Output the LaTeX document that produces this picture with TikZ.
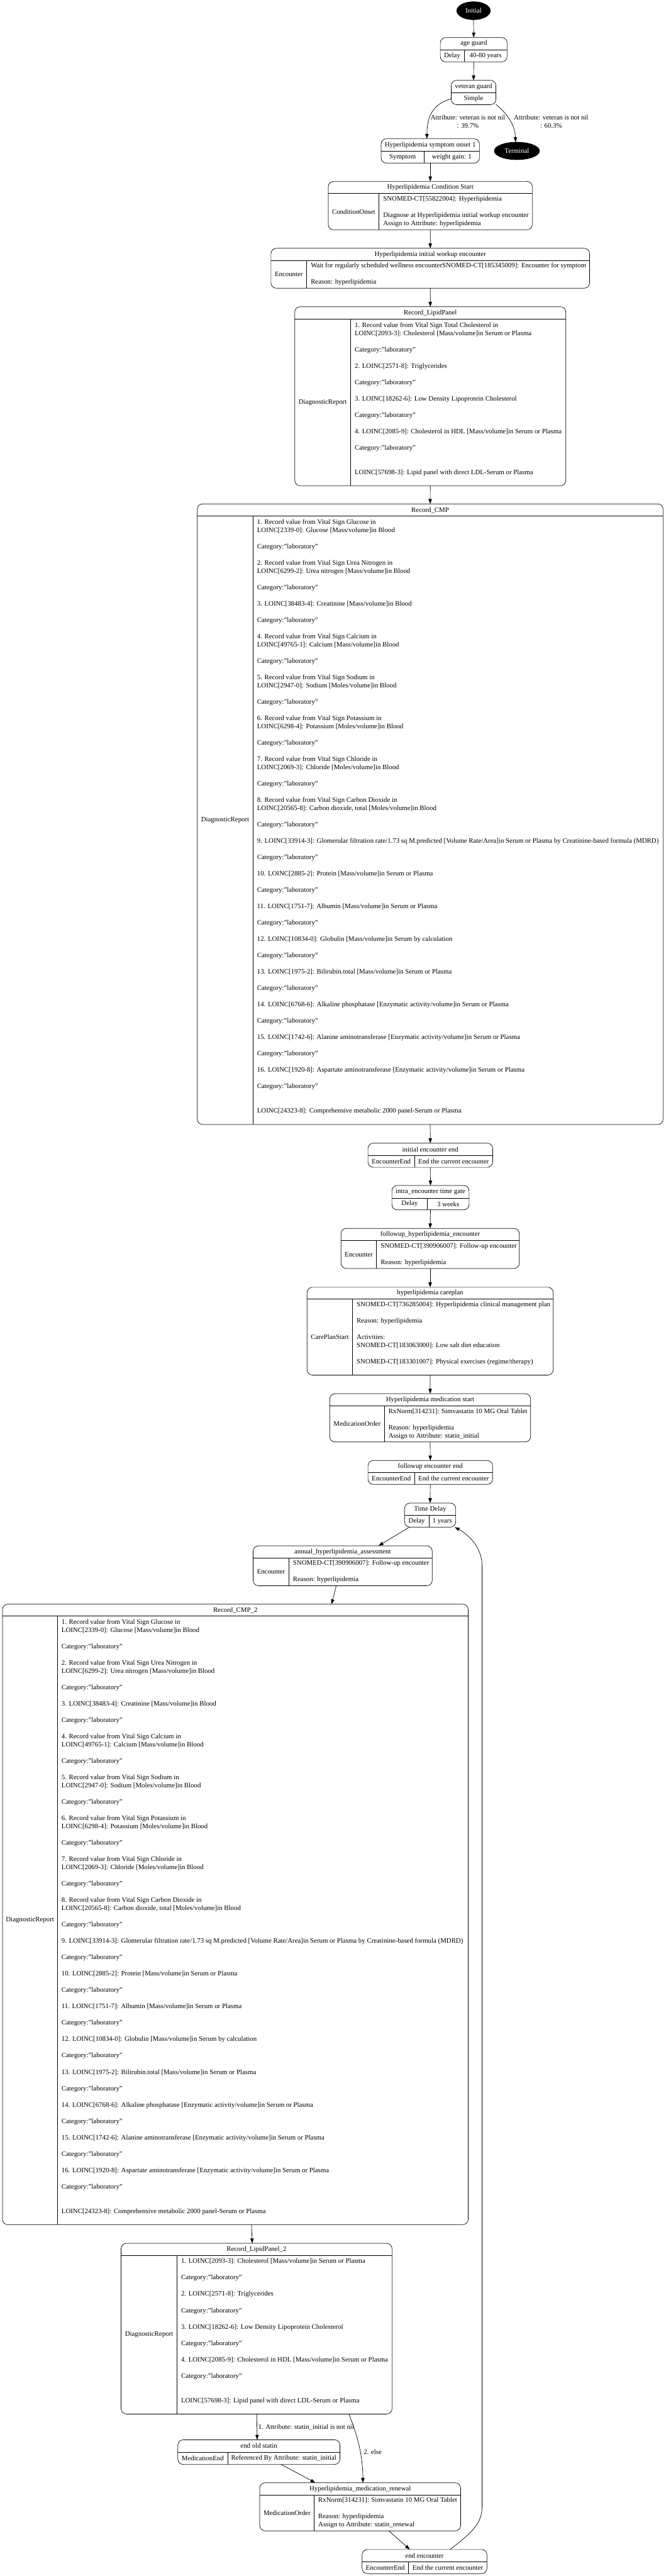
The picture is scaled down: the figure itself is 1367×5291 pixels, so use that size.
\documentclass[tikz,border=0pt]{standalone}
\usepackage{fontspec}
\setmainfont{Liberation Serif}
\usetikzlibrary{arrows.meta,calc,shapes.geometric}

\newcommand\cat{Category:"laboratory"}
\newcommand\bk{\\\mbox{}\\}
\newcommand\cmpbody{1. Record value from Vital Sign Glucose in\\LOINC[2339-0]: Glucose [Mass/volume]in Blood\bk\cat\bk
2. Record value from Vital Sign Urea Nitrogen in\\LOINC[6299-2]: Urea nitrogen [Mass/volume]in Blood\bk\cat\bk
3. LOINC[38483-4]: Creatinine [Mass/volume]in Blood\bk\cat\bk
4. Record value from Vital Sign Calcium in\\LOINC[49765-1]: Calcium [Mass/volume]in Blood\bk\cat\bk
5. Record value from Vital Sign Sodium in\\LOINC[2947-0]: Sodium [Moles/volume]in Blood\bk\cat\bk
6. Record value from Vital Sign Potassium in\\LOINC[6298-4]: Potassium [Moles/volume]in Blood\bk\cat\bk
7. Record value from Vital Sign Chloride in\\LOINC[2069-3]: Chloride [Moles/volume]in Blood\bk\cat\bk
8. Record value from Vital Sign Carbon Dioxide in\\LOINC[20565-8]: Carbon dioxide, total [Moles/volume]in Blood\bk\cat\bk
9. LOINC[33914-3]: Glomerular filtration rate/1.73 sq M.predicted [Volume Rate/Area]in Serum or Plasma by Creatinine-based formula (MDRD)\bk\cat\bk
10. LOINC[2885-2]: Protein [Mass/volume]in Serum or Plasma\bk\cat\bk
11. LOINC[1751-7]: Albumin [Mass/volume]in Serum or Plasma\bk\cat\bk
12. LOINC[10834-0]: Globulin [Mass/volume]in Serum by calculation\bk\cat\bk
13. LOINC[1975-2]: Bilirubin.total [Mass/volume]in Serum or Plasma\bk\cat\bk
14. LOINC[6768-6]: Alkaline phosphatase [Enzymatic activity/volume]in Serum or Plasma\bk\cat\bk
15. LOINC[1742-6]: Alanine aminotransferase [Enzymatic activity/volume]in Serum or Plasma\bk\cat\bk
16. LOINC[1920-8]: Aspartate aminotransferase [Enzymatic activity/volume]in Serum or Plasma\bk\cat\\\mbox{}\\\mbox{}\\LOINC[24323-8]: Comprehensive metabolic 2000 panel-Serum or Plasma\\\mbox{}}
\newcommand\lpbody{1. Record value from Vital Sign Total Cholesterol in\\LOINC[2093-3]: Cholesterol [Mass/volume]in Serum or Plasma\bk\cat\bk
2. LOINC[2571-8]: Triglycerides\bk\cat\bk
3. LOINC[18262-6]: Low Density Lipoprotein Cholesterol\bk\cat\bk
4. LOINC[2085-9]: Cholesterol in HDL [Mass/volume]in Serum or Plasma\bk\cat\\\mbox{}\\\mbox{}\\LOINC[57698-3]: Lipid panel with direct LDL-Serum or Plasma\\\mbox{}}
\newcommand\lptwobody{1. LOINC[2093-3]: Cholesterol [Mass/volume]in Serum or Plasma\bk\cat\bk
2. LOINC[2571-8]: Triglycerides\bk\cat\bk
3. LOINC[18262-6]: Low Density Lipoprotein Cholesterol\bk\cat\bk
4. LOINC[2085-9]: Cholesterol in HDL [Mass/volume]in Serum or Plasma\bk\cat\\\mbox{}\\\mbox{}\\LOINC[57698-3]: Lipid panel with direct LDL-Serum or Plasma\\\mbox{}}

% name, L, T, R, B, header-sep y, column-sep x, title, left label
\newcommand\Rec[9]{%
  \pgfmathsetmacro\recw{#4-#2}\pgfmathsetmacro\rech{#5-#3}%
  \node[rec, minimum width=\recw pt, minimum height=\rech pt] (#1) at ({(#2+#4)/2},{(#3+#5)/2}) {};
  \draw (#2,#6) -- (#4,#6);
  \draw (#7,#6) -- (#7,#5);
  \node (#1-t) at ({(#2+#4)/2},{(#3+#6)/2}) {#8};
  \node (#1-l) at ({(#2+#7)/2},{(#6+#5)/2}) {#9};
  \gdef\rL{#2}\gdef\rR{#4}\gdef\rH{#6}\gdef\rB{#5}\gdef\rC{#7}\gdef\rN{#1}%
}
\newcommand\Body[1]{\node[body] (\rN-b) at ({\rC+8},{(\rH+\rB)/2}) {#1};}
\newcommand\CBody[1]{\node (\rN-b) at ({(\rC+\rR)/2},{(\rH+\rB)/2}) {#1};}

\begin{document}
\begin{tikzpicture}[x=1pt,y=-1pt,
  font=\fontsize{14pt}{16.8pt}\selectfont,
  line width=0.9pt,
  rec/.style={draw, rounded corners=11pt, inner sep=0pt, outer sep=0pt},
  body/.style={anchor=west, align=left, inner sep=0pt},
  elab/.style={align=center, inner sep=0pt},
  arr/.style={-{Triangle[length=10pt,width=7pt]}},
  blackoval/.style={ellipse, draw, fill=black, text=white, inner sep=0pt, outer sep=0pt}]
\useasboundingbox[fill=white] (0,0) rectangle (1367,5291);

\node[blackoval, minimum width=69pt, minimum height=37pt] (init) at (972.7,22) {Initial};
\node[blackoval, minimum width=93pt, minimum height=36pt] (term) at (1061.7,310) {Terminal};

\Rec{ag}{904.4}{77.1}{1041.6}{127.1}{102.1}{953.2}{age guard}{Delay}
\CBody{40-80 years}

\node[rec, minimum width=91.8pt, minimum height=50pt] (vg) at (972.7,190) {};
\draw (926.8,190.4) -- (1018.6,190.4);
\node (vg-t) at (972.7,177.7) {veteran guard};
\node (vg-b) at (972.7,202.7) {Simple};

\Rec{so}{782.7}{285}{984.8}{335}{310.4}{871.1}{Hyperlipidemia symptom onset 1}{Symptom}
\CBody{weight gain: 1}

\Rec{cs}{674.2}{372.5}{1093.3}{472}{397.5}{778.7}{Hyperlipidemia Condition Start}{ConditionOnset}
\Body{SNOMED-CT[55822004]: Hyperlipidemia\bk Diagnose at Hyperlipidemia initial workup encounter\\Assign to Attribute: hyperlipidemia}

\Rec{wu}{556.6}{510}{1211}{592}{535}{630}{Hyperlipidemia initial workup encounter}{Encounter}
\Body{Wait for regularly scheduled wellness encounterSNOMED-CT[185345009]: Encounter for symptom\bk Reason: hyperlipidemia}

\Rec{lp}{605.4}{630}{1162.2}{997.7}{655.7}{720.2}{Record\_LipidPanel}{DiagnosticReport}
\Body{\lpbody}

\Rec{cmp}{405.2}{1035}{1362}{2309.6}{1060.3}{519.7}{Record\_CMP}{DiagnosticReport}
\Body{\cmpbody}

\Rec{iee}{755.8}{2348}{1012}{2397.6}{2372.8}{851.5}{initial encounter end}{EncounterEnd}
\CBody{End the current encounter}

\Rec{itg}{804.9}{2435}{963.5}{2485}{2460.8}{877.9}{intra\_encounter time gate}{Delay}
\CBody{3 weeks}

\Rec{fhe}{700.4}{2523}{1066.7}{2605.4}{2547.7}{773.4}{followup\_hyperlipidemia\_encounter}{Encounter}
\Body{SNOMED-CT[390906007]: Follow-up encounter\bk Reason: hyperlipidemia}

\Rec{cp}{630.7}{2644}{1136.4}{2824.3}{2668.5}{724.2}{hyperlipidemia careplan}{CarePlanStart}
\Body{SNOMED-CT[736285004]: Hyperlipidemia clinical management plan\bk Reason: hyperlipidemia\bk Activities:\\SNOMED-CT[183063000]: Low salt diet education\bk SNOMED-CT[183301007]: Physical exercises (regime/therapy)\\\mbox{}}

\Rec{mes}{677.2}{2862.6}{1090}{2961.5}{2887.5}{789.7}{Hyperlipidemia medication start}{MedicationOrder}
\Body{RxNorm[314231]: Simvastatin 10 MG Oral Tablet\bk Reason: hyperlipidemia\\Assign to Attribute: statin\_initial}

\Rec{fee}{755.8}{2999.8}{1011.8}{3048.9}{3024.3}{851.7}{followup encounter end}{EncounterEnd}
\CBody{End the current encounter}

\Rec{td}{831}{3087.2}{936}{3136.6}{3112.1}{881}{Time Delay}{Delay}
\CBody{1 years}

\Rec{ann}{519.9}{3175}{887.8}{3257}{3200}{593.4}{annual\_hyperlipidemia\_assessment}{Encounter}
\Body{SNOMED-CT[390906007]: Follow-up encounter\bk Reason: hyperlipidemia}

\Rec{cmp2}{5.1}{3295}{961.7}{4569.3}{3319.5}{118}{Record\_CMP\_2}{DiagnosticReport}
\Body{\cmpbody}

\Rec{lp2}{248.7}{4607.7}{805.2}{4958.2}{4632.3}{363.6}{Record\_LipidPanel\_2}{DiagnosticReport}
\Body{\lptwobody}

\Rec{eos}{365.3}{5011.2}{698.3}{5061.8}{5036.5}{467.5}{end old statin}{MedicationEnd}
\CBody{Referenced By Attribute: statin\_initial}

\Rec{mr}{533.5}{5099.4}{946.2}{5198.2}{5124.7}{645.4}{Hyperlipidemia\_medication\_renewal}{MedicationOrder}
\Body{RxNorm[314231]: Simvastatin 10 MG Oral Tablet\bk Reason: hyperlipidemia\\Assign to Attribute: statin\_renewal}

\Rec{ee}{743.6}{5236.5}{1000.2}{5286}{5261.4}{838.9}{end encounter}{EncounterEnd}
\CBody{End the current encounter}

% connectors
\draw[arr] (init.south) -- (ag.north);
\draw[arr] (ag.south) -- (vg.north);
\draw[arr] (vg.196) .. controls (885,214) and (877,245) .. ($(so.north)+(-6.85,0)$);
\node[elab] (l1) at (961,250) {Attribute: veteran is not nil\\: 39.7\%};
\draw[arr] (vg.-28) .. controls (1040,232) and (1058,255) .. ($(term.north)+(-2.9,0)$);
\node[elab] (l2) at (1132,250) {Attribute: veteran is not nil\\: 60.3\%};
\draw[arr] (so.south) -- (cs.north);
\draw[arr] (cs.south) -- (wu.north);
\draw[arr] (wu.south) -- (lp.north);
\draw[arr] (lp.south) -- (cmp.north);
\draw[arr] (cmp.south) -- (iee.north);
\draw[arr] (iee.south) -- (itg.north);
\draw[arr] (itg.south) -- (fhe.north);
\draw[arr] (fhe.south) -- (cp.north);
\draw[arr] (cp.south) -- (mes.north);
\draw[arr] (mes.south) -- (fee.north);
\draw[arr] (fee.south) -- (td.north);
\draw[arr] ($(td.south)+(-42.7,0)$) -- ($(ann.north)+(73.7,0)$);
\draw[arr] ($(ann.south)+(-13.2,0)$) -- ($(cmp2.north)+(197.6,0)$);
\draw[arr] ($(cmp2.south)+(33.2,0)$) -- ($(lp2.north)+(-8.9,0)$);
\draw[arr] ($(lp2.south)+(0.3,0)$) -- ($(eos.north)+(-3.5,0)$);
\node[anchor=west, inner sep=0pt] (l3) at (530,4985.5) {1. Attribute: statin\_initial is not nil};
\draw[arr] ($(lp2.south)+(189.7,0)$) .. controls (733,5000) and (745.3,5040) .. ($(mr.north)+(5.45,0)$);
\node[anchor=west, inner sep=0pt] (l4) at (746.5,5036.5) {2. else};
\draw[arr] ($(eos.south)+(45.9,0)$) -- ($(mr.north)+(-92.2,0)$);
\draw[arr] ($(mr.south)+(58.85,0)$) -- ($(ee.north)+(-30.1,0)$);
\draw[arr] ($(ee.north)+(52.5,0)$) .. controls (965,5205) and (990,5185) .. (990,5150)
   -- (990,3215) .. controls (990,3178) and (962,3152) .. ($(td.south east)+(-2,0)$);
\end{tikzpicture}
\end{document}
